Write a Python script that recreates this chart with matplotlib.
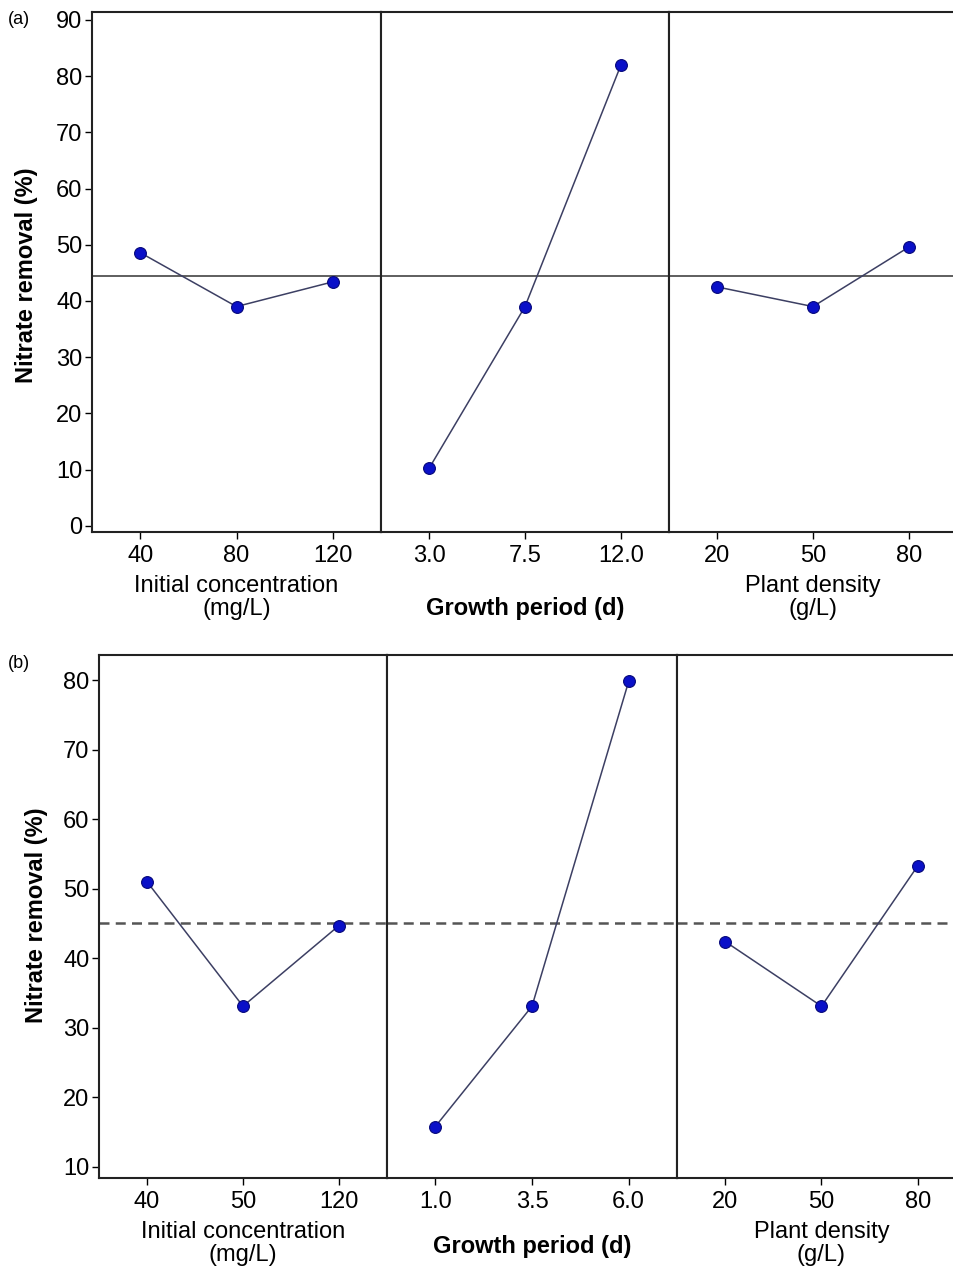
"""Main effects plots for nitrate removal, panels (a) and (b)."""

import matplotlib

matplotlib.use("Agg")
import matplotlib.pyplot as plt
from matplotlib import font_manager

# ---- data ---------------------------------------------------------------
FACTOR_LABELS = ["Initial concentration\n(mg/L)", "Growth period (d)", "Plant density\n(g/L)"]

A_TICKS = [["40", "80", "120"], ["3.0", "7.5", "12.0"], ["20", "50", "80"]]
A_MEANS = [[48.6, 39.0, 43.4], [10.2, 39.0, 82.0], [42.5, 39.0, 49.6]]
A_REF = 44.5

B_TICKS = [["40", "50", "120"], ["1.0", "3.5", "6.0"], ["20", "50", "80"]]
B_MEANS = [[51.0, 33.1, 44.7], [15.8, 33.1, 79.8], [42.4, 33.1, 53.3]]
B_REF = 45.0

W, H = 954, 1268

installed = {f.name for f in font_manager.fontManager.ttflist}
NARROW = "Liberation Sans Narrow" if "Liberation Sans Narrow" in installed else "Liberation Sans"
BOLD = "Liberation Sans" if "Liberation Sans" in installed else "DejaVu Sans"

plt.rcParams["font.family"] = [BOLD, "DejaVu Sans"]

fig = plt.figure(figsize=(W / 100, H / 100), dpi=100)


def px_box(x0, x1, y0, y1):
    # pixel box (top-left origin) -> figure fraction rect
    return [x0 / W, 1 - y1 / H, (x1 - x0) / W, (y1 - y0) / H]


def draw_panel(edges, y0, y1, ticks, means, ref, ylim, yticks, ref_style, label_pads):
    axes = []
    for i, (x0, x1) in enumerate(zip(edges[:-1], edges[1:])):
        ax = fig.add_axes(px_box(x0, x1, y0, y1))
        xs = range(len(means[i]))
        ax.plot(xs, means[i], "-", color="#3c3f63", linewidth=1.1, zorder=3)
        ax.plot(xs, means[i], "o", color="#0a10c8", markeredgecolor="#06087a",
                markeredgewidth=0.8, markersize=8.5, zorder=4)
        ax.axhline(ref, zorder=2, **ref_style)
        ax.set_xlim(-0.5, 2.5)
        ax.set_ylim(*ylim)
        ax.set_xticks(list(xs), ticks[i], fontfamily=NARROW, fontsize=17)
        ax.tick_params(axis="x", length=5, width=1.0, pad=4)
        ax.set_xlabel(FACTOR_LABELS[i], labelpad=label_pads[i],
                      fontfamily=NARROW if i != 1 else BOLD,
                      fontweight="bold" if i == 1 else "normal",
                      fontsize=17 if i != 1 else 17, linespacing=1.05)
        for side in ("top", "left", "bottom", "right"):
            ax.spines[side].set_linewidth(1.5)
            ax.spines[side].set_color("#222222")
        if i == 0:
            ax.set_yticks(yticks, [str(v) for v in yticks], fontfamily=NARROW, fontsize=17)
            ax.tick_params(axis="y", length=5, width=1.0, pad=2)
        else:
            ax.set_yticks([])
        axes.append(ax)
    return axes


draw_panel([92, 381, 669, 957], 12, 532, A_TICKS, A_MEANS, A_REF,
           (-1.1, 91.4), list(range(0, 91, 10)),
           dict(color="#333333", linewidth=1.1, linestyle="-"), [6, 22, 6])
draw_panel([99, 387, 677, 966], 655, 1178, B_TICKS, B_MEANS, B_REF,
           (8.4, 83.6), list(range(10, 81, 10)),
           dict(color="#555555", linewidth=1.8, linestyle=(0, (4, 2.5))), [6, 16, 6])

fig.text(27 / W, 1 - 275 / H, "Nitrate removal (%)", rotation=90, ha="center",
         va="center", fontsize=17, fontweight="bold")
fig.text(37 / W, 1 - 915 / H, "Nitrate removal (%)", rotation=90, ha="center",
         va="center", fontsize=17, fontweight="bold")
fig.text(8 / W, 1 - 20 / H, "(a)", ha="left", va="center", fontsize=13)
fig.text(8 / W, 1 - 663 / H, "(b)", ha="left", va="center", fontsize=13)

fig.savefig("out.png", dpi=100)
